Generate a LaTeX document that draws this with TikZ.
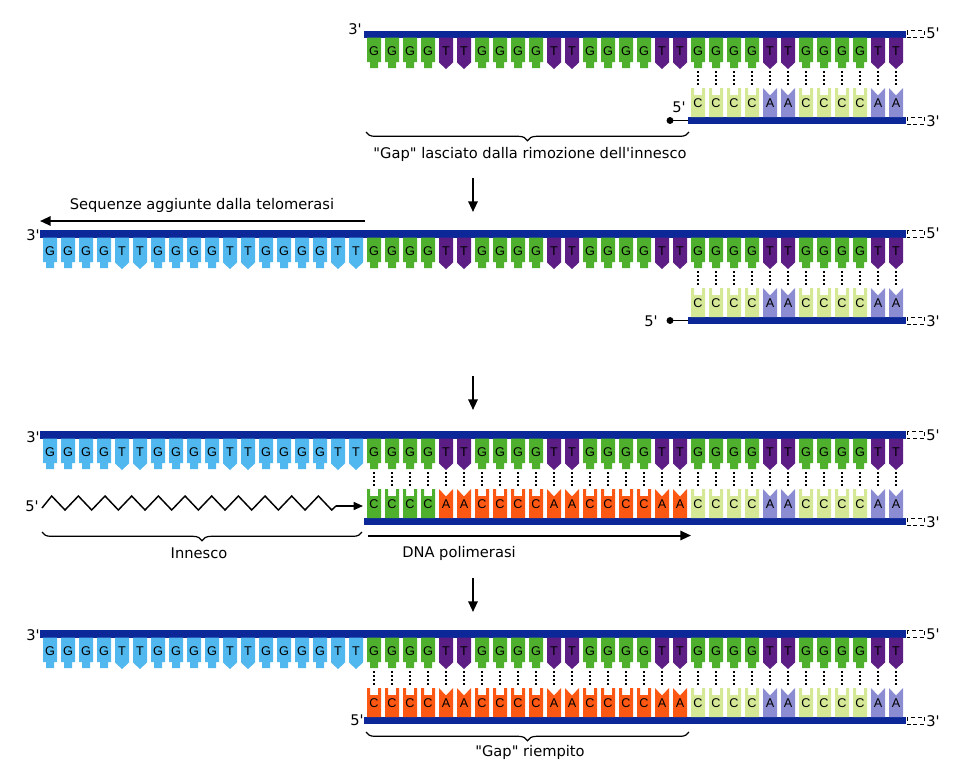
\documentclass[tikz,border=0pt]{standalone}
\usepackage{fontspec}
\setmainfont{Liberation Sans}
\newfontfamily\labelfont{DejaVu Sans}
\usetikzlibrary{arrows.meta,decorations.pathreplacing}

\definecolor{strandblue}{RGB}{12,40,152}
\definecolor{gGreen}{RGB}{78,176,44}
\definecolor{tPurple}{RGB}{92,30,132}
\definecolor{tCyan}{RGB}{80,184,238}
\definecolor{cLight}{RGB}{212,232,150}
\definecolor{aLav}{RGB}{140,140,210}
\definecolor{newOrange}{RGB}{252,88,20}

% top strand base: panel, index, colour of G, colour of T
\newcommand\topbase[4]{%
  \pgfmathtruncatemacro\bx{43+18*#2}%
  \pgfmathtruncatemacro\br{mod(#2,6)}%
  \ifnum\br<4
    \fill[#3] (\bx,37.5) -- ++(14,0) -- ++(0,24.5) -- ++(-3,0) -- ++(0,6) -- ++(-8,0) -- ++(0,-6) -- ++(-3,0) -- cycle;
    \node[basetext] (p#1t#2) at (\bx+7,51) {G};
  \else
    \fill[#4] (\bx,37.5) -- ++(14,0) -- ++(0,25) -- ++(-7,6.5) -- ++(-7,-6.5) -- cycle;
    \node[basetext] (p#1t#2) at (\bx+7,51) {T};
  \fi}

% bottom strand base: panel, index, colour of C, colour of A
\newcommand\botbase[4]{%
  \pgfmathtruncatemacro\bx{43+18*#2}%
  \pgfmathtruncatemacro\br{mod(#2,6)}%
  \draw[pairdots] (\bx+7,71) -- (\bx+7,87);
  \ifnum\br<4
    \fill[#3] (\bx,88) -- ++(3,0) -- ++(0,7) -- ++(8,0) -- ++(0,-7) -- ++(3,0) -- ++(0,29) -- ++(-14,0) -- cycle;
    \node[basetext] (p#1b#2) at (\bx+7,103) {C};
  \else
    \fill[#4] (\bx,88) -- ++(7,7.5) -- ++(7,-7.5) -- ++(0,29) -- ++(-14,0) -- cycle;
    \node[basetext] (p#1b#2) at (\bx+7,103) {A};
  \fi}

\begin{document}
\begin{tikzpicture}[
    x=0.75pt, y=-0.75pt,
    basetext/.style={font=\fontsize{9.5}{11}\selectfont, inner sep=0pt},
    endlabel/.style={font=\labelfont\fontsize{11}{13}\selectfont, inner sep=0pt},
    caption/.style={font=\labelfont\fontsize{11}{13}\selectfont, inner sep=0pt},
    strand/.style={fill=strandblue},
    pairdots/.style={line width=1.5pt, dash pattern=on 1.5pt off 1.5pt},
    openend/.style={draw, densely dashed, line width=0.6pt},
    down arrow/.style={line width=1.5pt, -{Triangle[length=8pt,width=7pt]}},
    gapbrace/.style={decorate, decoration={brace, mirror, amplitude=6.5pt}, line width=0.9pt},
    ]
\useasboundingbox (0,0) rectangle (953,768);

% panel 1: gap left by primer removal
\begin{scope}
\fill[strand] (364,30.5) rectangle (906,37.5);
\fill[strand] (688,117) rectangle (906,124);
\draw[openend] (907,30.5) rectangle (924,37.5);
\draw[openend] (907,117) rectangle (924,124);
\foreach \i in {18,...,47} {\topbase{1}{\i}{gGreen}{tPurple}}
\foreach \i in {36,...,47} {\botbase{1}{\i}{cLight}{aLav}}
\node[endlabel] (top3a) at (355,29) {3\textquotesingle};
\node[endlabel] (top5a) at (933,33) {5\textquotesingle};
\node[endlabel] (bot3a) at (933,121) {3\textquotesingle};
\node[endlabel] (bot5a) at (679,107) {5\textquotesingle};
\coordinate (enda) at (670,120.5);
\coordinate (barstarta) at (688,120.5);
\fill (enda) circle (2.6pt);
\draw[line width=1.1pt] (enda) -- (barstarta);
\coordinate (gapL) at (366,132);
\coordinate (gapR) at (689,132);
\draw[gapbrace] (gapL) -- (gapR);
\node[caption] (gaptext) at (530,154) {\textquotedbl Gap\textquotedbl\ lasciato dalla rimozione dell\textquotesingle innesco};
\end{scope}

\coordinate (arr1a) at (473,178);
\coordinate (arr1b) at (473,212);
\draw[down arrow] (arr1a) -- (arr1b);

% panel 2: telomerase extension
\begin{scope}[shift={(0,200)}]
\fill[strand] (40,30) rectangle (906,37.5);
\fill[strand] (688,117) rectangle (906,124);
\draw[openend] (907,30) rectangle (924,37.5);
\draw[openend] (907,117) rectangle (924,124);
\foreach \i in {0,...,17} {\topbase{2}{\i}{tCyan}{tCyan}}
\foreach \i in {18,...,47} {\topbase{2}{\i}{gGreen}{tPurple}}
\foreach \i in {36,...,47} {\botbase{2}{\i}{cLight}{aLav}}
\node[endlabel] (top3b) at (33,35) {3\textquotesingle};
\node[endlabel] (top5b) at (933,33) {5\textquotesingle};
\node[endlabel] (bot3b) at (933,121) {3\textquotesingle};
\node[endlabel] (bot5b) at (651,121) {5\textquotesingle};
\coordinate (endb) at (670,120.5);
\coordinate (barstartb) at (688,120.5);
\fill (endb) circle (2.6pt);
\draw[line width=1.1pt] (endb) -- (barstartb);
\coordinate (telostart) at (365,21);
\coordinate (teloend) at (40,21);
\draw[down arrow] (telostart) -- (teloend);
\node[caption] (telotext) at (202,5) {Sequenze aggiunte dalla telomerasi};
\end{scope}

\coordinate (arr2a) at (473,376);
\coordinate (arr2b) at (473,410);
\draw[down arrow] (arr2a) -- (arr2b);

% panel 3: primer and DNA polymerase
\begin{scope}[shift={(0,401)}]
\fill[strand] (40,30) rectangle (906,37.5);
\fill[strand] (364,117) rectangle (906,124);
\draw[openend] (907,30) rectangle (924,37.5);
\draw[openend] (907,117) rectangle (924,124);
\foreach \i in {0,...,17} {\topbase{3}{\i}{tCyan}{tCyan}}
\foreach \i in {18,...,47} {\topbase{3}{\i}{gGreen}{tPurple}}
\foreach \i in {18,...,21} {\botbase{3}{\i}{gGreen}{gGreen}}
\foreach \i in {22,...,35} {\botbase{3}{\i}{newOrange}{newOrange}}
\foreach \i in {36,...,47} {\botbase{3}{\i}{cLight}{aLav}}
\node[endlabel] (top3c) at (33,36) {3\textquotesingle};
\node[endlabel] (top5c) at (933,34) {5\textquotesingle};
\node[endlabel] (bot3c) at (933,121) {3\textquotesingle};
\node[endlabel] (bot5c) at (32,105) {5\textquotesingle};
\coordinate (primerstart) at (42,107);
\coordinate (primerend) at (336,105);
\coordinate (primertip) at (363,105);
\draw[line width=1.1pt] (primerstart)
  \foreach \k in {0,...,10} { -- ({51.7+26.67*\k},95) -- ({65+26.67*\k},109) }
  -- (primerend);
\draw[line width=1.1pt, -{Triangle[length=7pt,width=6pt]}] (primerend) -- (primertip);
\coordinate (primerL) at (42,131);
\coordinate (primerR) at (362,131);
\draw[gapbrace] (primerL) -- (primerR);
\node[caption] (primertext) at (199,152) {Innesco};
\coordinate (polstart) at (368,134.5);
\coordinate (polend) at (691,134.5);
\draw[down arrow] (polstart) -- (polend);
\node[caption] (poltext) at (459,152) {DNA polimerasi};
\end{scope}

\coordinate (arr3a) at (473,578);
\coordinate (arr3b) at (473,612);
\draw[down arrow] (arr3a) -- (arr3b);

% panel 4: gap filled
\begin{scope}[shift={(0,600)}]
\fill[strand] (40,30) rectangle (906,37.5);
\fill[strand] (364,117) rectangle (906,124);
\draw[openend] (907,30) rectangle (924,37.5);
\draw[openend] (907,117) rectangle (924,124);
\foreach \i in {0,...,17} {\topbase{4}{\i}{tCyan}{tCyan}}
\foreach \i in {18,...,47} {\topbase{4}{\i}{gGreen}{tPurple}}
\foreach \i in {18,...,35} {\botbase{4}{\i}{newOrange}{newOrange}}
\foreach \i in {36,...,47} {\botbase{4}{\i}{cLight}{aLav}}
\node[endlabel] (top3d) at (33,35) {3\textquotesingle};
\node[endlabel] (top5d) at (933,34) {5\textquotesingle};
\node[endlabel] (bot3d) at (933,121) {3\textquotesingle};
\node[endlabel] (bot5d) at (357,120) {5\textquotesingle};
\coordinate (fillL) at (366,132);
\coordinate (fillR) at (689,132);
\draw[gapbrace] (fillL) -- (fillR);
\node[caption] (filltext) at (530,152) {\textquotedbl Gap\textquotedbl\ riempito};
\end{scope}
\end{tikzpicture}
\end{document}
